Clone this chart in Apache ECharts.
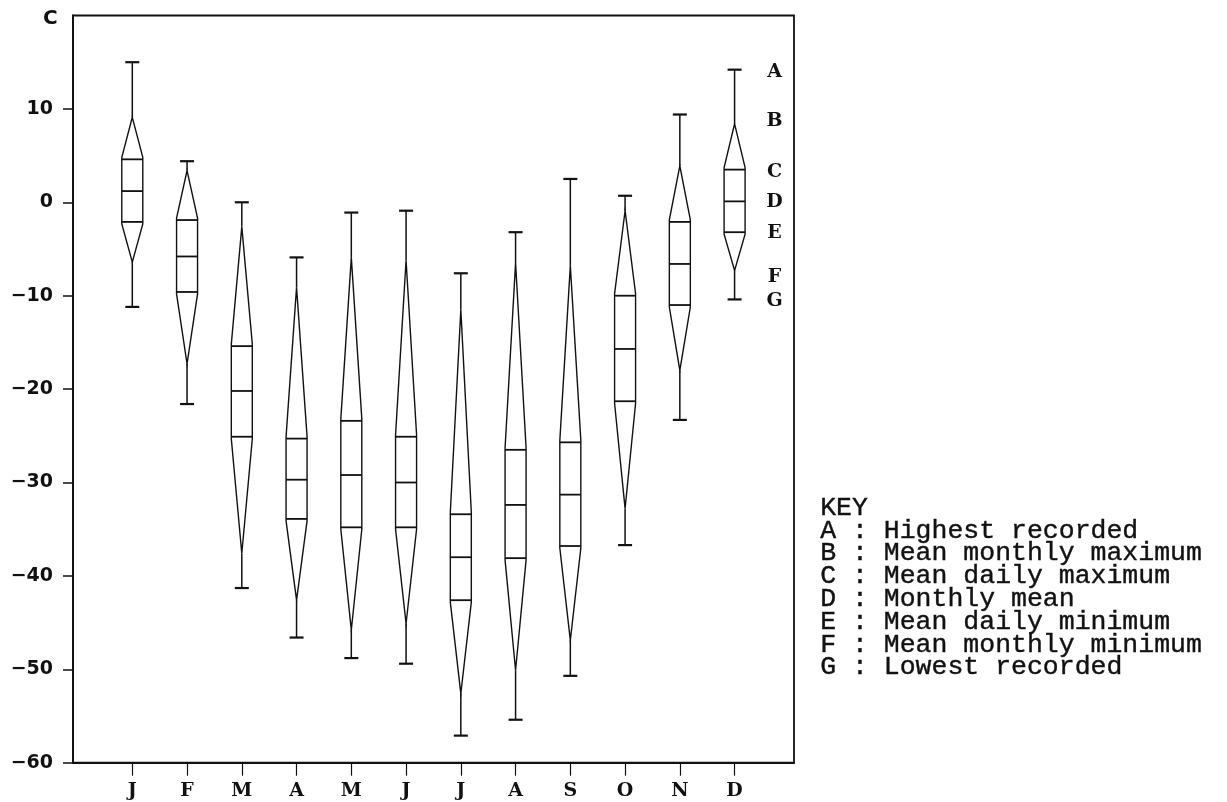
<!DOCTYPE html>
<html>
<head>
<meta charset="utf-8">
<script src="https://cdn.jsdelivr.net/npm/echarts@6/dist/echarts.min.js"></script>
<style>
  html, body { margin: 0; padding: 0; background: #fff; }
  #chart { width: 1227px; height: 802px; }
</style>
</head>
<body>
<div id="chart"></div>
<script>
// Monthly temperature statistics (°C), one entry per month J..D
const months = ['J', 'F', 'M', 'A', 'M', 'J', 'J', 'A', 'S', 'O', 'N', 'D'];
const highestRecorded = [15.0, 4.4, 0.0, -5.9, -1.1, -0.9, -7.6, -3.2, 2.5, 0.7, 9.4, 14.2];
const meanMonthlyMax  = [9.1, 3.4, -2.6, -9.1, -5.9, -6.2, -11.5, -6.5, -6.8, -0.9, 3.9, 8.4];
const meanDailyMax    = [4.6, -1.9, -15.4, -25.3, -23.4, -25.1, -33.4, -26.5, -25.7, -10.0, -2.1, 3.5];
const monthlyMean     = [1.2, -5.8, -20.2, -29.7, -29.2, -30.0, -38.0, -32.4, -31.3, -15.7, -6.6, 0.1];
const meanDailyMin    = [-2.1, -9.6, -25.1, -33.9, -34.8, -34.8, -42.6, -38.1, -36.8, -21.3, -11.0, -3.2];
const meanMonthlyMin  = [-6.4, -17.3, -37.6, -42.6, -45.8, -45.1, -52.6, -50.1, -46.9, -32.8, -18.0, -7.3];
const lowestRecorded  = [-11.2, -21.6, -41.3, -46.6, -48.8, -49.4, -57.1, -55.4, -50.7, -36.7, -23.3, -10.4];

const yTicks = [-60, -50, -40, -30, -20, -10, 0, 10];
const keyLetters = ['A', 'B', 'C', 'D', 'E', 'F', 'G'];
const keyLines = [
  'KEY',
  'A : Highest recorded',
  'B : Mean monthly maximum',
  'C : Mean daily maximum',
  'D : Monthly mean',
  'E : Mean daily minimum',
  'F : Mean monthly minimum',
  'G : Lowest recorded'
];

const INK = '#111';
const monthPos = months.map((m, i) => i + 1);

const glyphData = months.map((m, i) => [
  monthPos[i],
  highestRecorded[i], meanMonthlyMax[i], meanDailyMax[i], monthlyMean[i],
  meanDailyMin[i], meanMonthlyMin[i], lowestRecorded[i]
]);

function renderGlyph(params, api) {
  const x = api.value(0);
  const p = k => api.coord([x, api.value(k)]);
  const A = p(1), B = p(2), C = p(3), D = p(4), E = p(5), F = p(6), G = p(7);
  const cx = A[0];
  const hw = 10.5;   // half width of the box
  const cw = 7;      // half width of whisker caps
  const thin = { stroke: INK, lineWidth: 1.4, fill: null };
  const mid = { stroke: INK, lineWidth: 1.8 };
  const whisk = { stroke: INK, lineWidth: 1.5 };
  const capS = { stroke: INK, lineWidth: 2.2 };
  return {
    type: 'group',
    children: [
      { type: 'polygon', shape: { points: [
          [cx, B[1]], [cx + hw, C[1] - 2], [cx + hw, E[1] + 2],
          [cx, F[1]], [cx - hw, E[1] + 2], [cx - hw, C[1] - 2] ] }, style: thin },
      { type: 'line', shape: { x1: cx - hw, y1: C[1], x2: cx + hw, y2: C[1] }, style: mid },
      { type: 'line', shape: { x1: cx - hw, y1: D[1], x2: cx + hw, y2: D[1] }, style: mid },
      { type: 'line', shape: { x1: cx - hw, y1: E[1], x2: cx + hw, y2: E[1] }, style: mid },
      { type: 'line', shape: { x1: cx, y1: A[1], x2: cx, y2: B[1] }, style: whisk },
      { type: 'line', shape: { x1: cx, y1: F[1], x2: cx, y2: G[1] }, style: whisk },
      { type: 'line', shape: { x1: cx - cw, y1: A[1], x2: cx + cw, y2: A[1] }, style: capS },
      { type: 'line', shape: { x1: cx - cw, y1: G[1], x2: cx + cw, y2: G[1] }, style: capS }
    ]
  };
}

// Letters A..G set beside the December glyph, at December's values
const last = months.length - 1;
const decValues = [highestRecorded[last], meanMonthlyMax[last], meanDailyMax[last], monthlyMean[last],
                   meanDailyMin[last], meanMonthlyMin[last], lowestRecorded[last]];
const letterNudge = [2, -3, 2, 1, 1, 7, 2];
function renderLetters(params, api) {
  const children = keyLetters.map((L, k) => {
    const pt = api.coord([monthPos[last], decValues[k]]);
    return {
      type: 'text',
      style: {
        x: pt[0] + 40, y: pt[1] + letterNudge[k], text: L,
        fill: INK, font: 'bold 19px "DejaVu Serif"',
        align: 'center', verticalAlign: 'middle'
      }
    };
  });
  return { type: 'group', children };
}

const chart = echarts.init(document.getElementById('chart'), null, { renderer: 'canvas' });

const keyGraphics = keyLines.map((t, k) => ({
  type: 'text',
  left: 820,
  top: 494 + k * 22.8,
  style: { text: t, fill: INK, font: '26.5px "Liberation Mono"', stroke: INK, lineWidth: 0.4 }
}));

chart.setOption({
  animation: false,
  backgroundColor: '#fff',
  grid: { left: 73, right: 433, top: 15.5, bottom: 39.3, show: true, borderColor: INK, borderWidth: 1.8, backgroundColor: 'transparent' },
  xAxis: {
    type: 'value',
    min: -0.083, max: 13.085,
    axisLine: { show: true, onZero: false, lineStyle: { color: INK, width: 2 } },
    splitLine: { show: false },
    axisTick: { show: true, length: 13, customValues: monthPos, lineStyle: { color: INK, width: 1.2 } },
    axisLabel: {
      customValues: monthPos, margin: 19,
      formatter: v => months[Math.round(v) - 1] || '',
      color: INK, fontFamily: 'DejaVu Serif', fontWeight: 'bold', fontSize: 19
    }
  },
  yAxis: {
    type: 'value',
    min: -60, max: 20, interval: 10,
    axisLine: { show: true, onZero: false, lineStyle: { color: INK, width: 2 } },
    splitLine: { show: false },
    axisTick: { show: true, length: 10, customValues: yTicks, lineStyle: { color: INK, width: 1.5 } },
    axisLabel: {
      customValues: yTicks, margin: 20,
      formatter: v => (v < 0 ? '\u2212' + Math.abs(v) : String(v)),
      color: INK, fontFamily: 'DejaVu Sans', fontWeight: 'bold', fontSize: 19
    }
  },
  graphic: [
    { type: 'text', left: 43, top: 9, style: { text: 'C', fill: INK, font: 'bold 20px "DejaVu Sans"' } }
  ].concat(keyGraphics),
  series: [
    {
      type: 'custom',
      renderItem: renderGlyph,
      data: glyphData,
      encode: { x: 0, y: [1, 2, 3, 4, 5, 6, 7] },
      clip: false
    },
    {
      type: 'custom',
      renderItem: renderLetters,
      data: [[monthPos[last], decValues[0]]],
      encode: { x: 0, y: 1 },
      clip: false,
      silent: true
    }
  ]
});
</script>
</body>
</html>
